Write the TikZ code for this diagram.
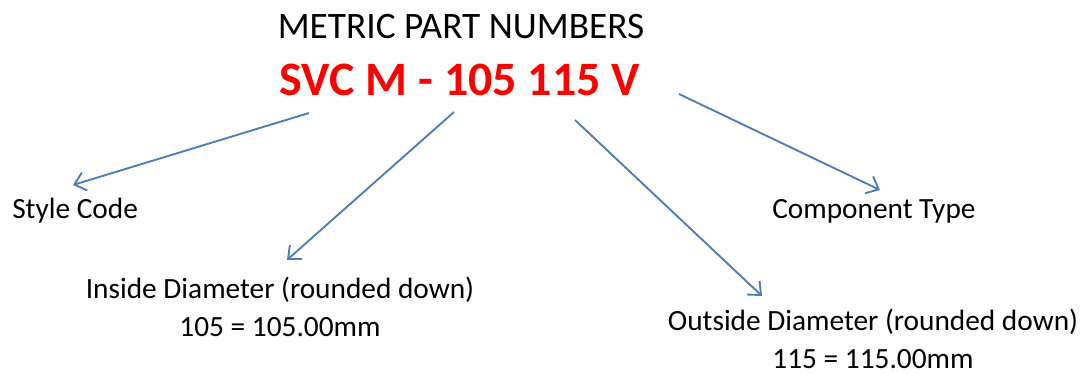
\documentclass[tikz,border=0pt]{standalone}
\usepackage{fontspec}
\setmainfont{Carlito}
\usetikzlibrary{arrows.meta}
\definecolor{partred}{RGB}{255,0,0}
\definecolor{arrowblue}{RGB}{74,126,187}
\tikzset{
    lbl/.style={font=\fontsize{22}{28}\selectfont, inner sep=0pt, align=center},
    pointer/.style={draw=arrowblue, line width=1.4pt,
        -{Straight Barb[length=8pt,width=14pt,line width=1.4pt]}}
}
\begin{document}
\begin{tikzpicture}[x=0.75pt,y=-0.75pt]
    \useasboundingbox (0,0) rectangle (1090,374);
    \node[lbl, font=\fontsize{28}{34}\selectfont] (title) at (461,27) {METRIC PART NUMBERS};
    \node[lbl, font=\fontsize{36}{42}\selectfont\bfseries, text=partred] (part) at (460,80) {SVC M - 105 115 V};

    \node[lbl, anchor=west] (style) at (12,211) {Style Code};
    \node[lbl, anchor=west] (comp) at (772,211) {Component Type};
    \node[lbl] (inside) at (280,307) {Inside Diameter (rounded down)\\105 = 105.00mm};
    \node[lbl] (outside) at (873,339) {Outside Diameter (rounded down)\\115 = 115.00mm};

    % arrow ends
    \foreach \n/\x/\y in {a1/309/113, b1/73/185, a2/454/112, b2/287/260,
                          a3/575/120, b3/762/296, a4/679/94, b4/880/190}
        \coordinate (\n) at (\x,\y);

    \draw[pointer] (a1) -- (b1);
    \draw[pointer] (a2) -- (b2);
    \draw[pointer] (a3) -- (b3);
    \draw[pointer] (a4) -- (b4);
\end{tikzpicture}
\end{document}
